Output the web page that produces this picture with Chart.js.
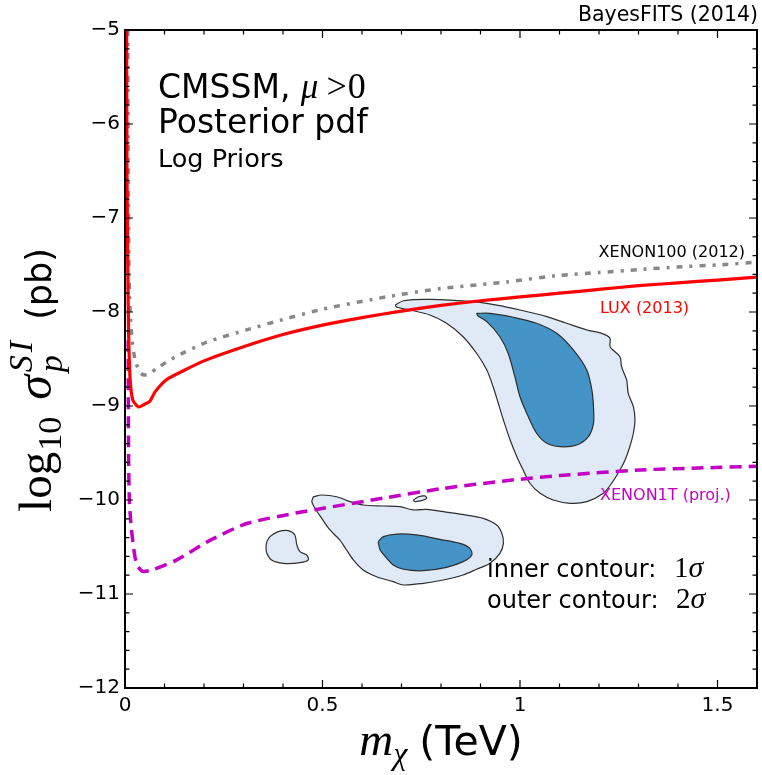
<!DOCTYPE html>
<html>
<head>
<meta charset="utf-8">
<script src="https://cdn.jsdelivr.net/npm/chart.js@4.4.1/dist/chart.umd.min.js"></script>
<style>
  html, body { margin: 0; padding: 0; background: #fff; }
  canvas { display: block; }
</style>
</head>
<body>
<canvas id="chartSI" width="762" height="775"></canvas>
<script>
// ---- datos (m en TeV, log10 sigma en pb) ----
const xMajorTicks = [0, 0.5, 1, 1.5];
const yMajorTicks = [-12, -11, -10, -9, -8, -7, -6, -5];

const luxMass  = [0.004, 0.005, 0.007, 0.009, 0.013, 0.020, 0.034, 0.050, 0.063, 0.076, 0.105, 0.150, 0.200, 0.300, 0.400, 0.500, 0.600, 0.700, 0.800, 0.900, 1.000, 1.100, 1.200, 1.300, 1.400, 1.500, 1.600];
const luxSigma = [-5.00, -6.50, -7.50, -8.20, -8.72, -8.94, -9.01, -8.98, -8.95, -8.85, -8.72, -8.62, -8.52, -8.37, -8.24, -8.14, -8.06, -7.99, -7.93, -7.88, -7.84, -7.80, -7.76, -7.72, -7.69, -7.66, -7.63];

const xenon100Mass  = [0.007, 0.008, 0.010, 0.013, 0.018, 0.025, 0.035, 0.046, 0.060, 0.080, 0.114, 0.150, 0.207, 0.308, 0.400, 0.500, 0.660, 0.800, 0.966, 1.100, 1.200, 1.300, 1.400, 1.500, 1.600];
const xenon100Sigma = [-5.00, -6.50, -7.50, -8.00, -8.30, -8.50, -8.62, -8.67, -8.66, -8.60, -8.51, -8.43, -8.32, -8.19, -8.08, -7.97, -7.84, -7.75, -7.68, -7.61, -7.58, -7.55, -7.52, -7.50, -7.47];

const xenon1tMass  = [0.008, 0.009, 0.011, 0.016, 0.025, 0.033, 0.046, 0.072, 0.130, 0.215, 0.308, 0.443, 0.485, 0.654, 0.800, 0.975, 1.100, 1.304, 1.450, 1.600];
const xenon1tSigma = [-8.30, -9.50, -10.00, -10.30, -10.60, -10.71, -10.76, -10.74, -10.64, -10.43, -10.25, -10.13, -10.10, -9.98, -9.88, -9.79, -9.74, -9.68, -9.66, -9.64];

// contornos 2 sigma (externos) y 1 sigma (internos)
const outerMainX = [0.684, 0.705, 0.772, 0.882, 0.941, 1.000, 1.068, 1.118, 1.169, 1.207, 1.228, 1.228, 1.253, 1.257, 1.270, 1.274, 1.287, 1.291, 1.287, 1.278, 1.266, 1.253, 1.232, 1.211, 1.169, 1.127, 1.084, 1.051, 1.025, 1.008, 0.992, 0.975, 0.958, 0.945, 0.932, 0.916, 0.890, 0.856, 0.814, 0.772, 0.722, 0.688];
const outerMainY = [-7.926, -7.880, -7.865, -7.890, -7.926, -7.979, -8.050, -8.120, -8.191, -8.227, -8.280, -8.369, -8.476, -8.582, -8.723, -8.865, -9.007, -9.149, -9.290, -9.433, -9.574, -9.681, -9.822, -9.929, -10.018, -10.035, -10.000, -9.929, -9.822, -9.681, -9.539, -9.362, -9.149, -8.971, -8.795, -8.617, -8.439, -8.263, -8.120, -8.032, -7.979, -7.950];

const innerMainX = [0.890, 0.924, 0.983, 1.042, 1.093, 1.135, 1.169, 1.182, 1.186, 1.186, 1.173, 1.144, 1.101, 1.068, 1.042, 1.021, 1.000, 0.987, 0.970, 0.949, 0.916, 0.894];
const innerMainY = [-8.014, -8.014, -8.056, -8.120, -8.227, -8.404, -8.617, -8.830, -9.007, -9.184, -9.327, -9.415, -9.433, -9.397, -9.290, -9.114, -8.901, -8.688, -8.439, -8.263, -8.103, -8.043];

const outerLowX = [0.477, 0.498, 0.536, 0.570, 0.603, 0.654, 0.696, 0.730, 0.764, 0.806, 0.865, 0.907, 0.941, 0.954, 0.958, 0.949, 0.924, 0.890, 0.856, 0.806, 0.755, 0.705, 0.679, 0.637, 0.603, 0.578, 0.561, 0.544, 0.519, 0.498, 0.481, 0.473];
const outerLowY = [-9.965, -9.947, -9.965, -10.018, -10.053, -10.064, -10.071, -10.106, -10.099, -10.124, -10.160, -10.195, -10.266, -10.354, -10.461, -10.567, -10.673, -10.737, -10.798, -10.851, -10.886, -10.904, -10.869, -10.816, -10.745, -10.638, -10.532, -10.426, -10.319, -10.195, -10.088, -10.018];

const innerLowX = [0.641, 0.654, 0.688, 0.738, 0.797, 0.848, 0.873, 0.878, 0.856, 0.814, 0.755, 0.705, 0.679, 0.663, 0.646];
const innerLowY = [-10.444, -10.390, -10.362, -10.372, -10.418, -10.461, -10.514, -10.585, -10.656, -10.716, -10.752, -10.737, -10.691, -10.620, -10.532];

const blobLeftX = [0.359, 0.367, 0.388, 0.413, 0.430, 0.435, 0.443, 0.460, 0.464, 0.443, 0.401, 0.371, 0.359, 0.357];
const blobLeftY = [-10.444, -10.390, -10.337, -10.326, -10.372, -10.479, -10.550, -10.585, -10.638, -10.667, -10.674, -10.638, -10.567, -10.497];

const blobTinyX = [0.730, 0.743, 0.759, 0.764, 0.747, 0.734];
const blobTinyY = [-10.000, -9.965, -9.957, -9.982, -10.010, -10.018];

// ---- helpers ----
function toPoints(xs, ys) {
    return xs.map((x, i) => ({ x: x, y: ys[i] }));
}
function closedPoints(xs, ys) {
    const p = toPoints(xs, ys);
    p.push({ x: xs[0], y: ys[0] });
    return p;
}

const OUTER_FILL = '#dfeaf6';
const INNER_FILL = '#4594c7';
const EDGE = '#2e2e2e';

function contourSet(xs, ys, fillColor, order) {
    return {
        data: closedPoints(xs, ys),
        showLine: true,
        fill: 'shape',
        backgroundColor: fillColor,
        borderColor: EDGE,
        borderWidth: 1.2,
        pointRadius: 0,
        tension: 0.3,
        order: order
    };
}

// dibuja trozos de texto con fuentes distintas (para lo "matematico")
function drawRuns(ctx, x, y, runs, align) {
    let total = 0;
    const adv = runs.map(r => {
        ctx.font = r.font;
        const w = ctx.measureText(r.t).width;
        const a = r.noAdvance ? 0 : w + (r.gap || 0);
        total += a;
        return a;
    });
    let cx = align === 'center' ? x - total / 2 : (align === 'right' ? x - total : x);
    ctx.textAlign = 'left';
    ctx.textBaseline = 'alphabetic';
    runs.forEach((r, i) => {
        ctx.font = r.font;
        ctx.fillStyle = r.color || '#000';
        ctx.fillText(r.t, cx, y + (r.dy || 0));
        cx += adv[i];
    });
}

// marco y marcas hacia adentro (estilo matplotlib)
const frameTicks = {
    id: 'frameTicks',
    afterDatasetsDraw(chart) {
        const { ctx, chartArea: a, scales: { x, y } } = chart;
        ctx.save();
        ctx.strokeStyle = '#000';
        ctx.lineWidth = 1.2;
        ctx.beginPath();
        for (let i = 0; i <= 16; i++) {
            const px = x.getPixelForValue(i / 10);
            const len = xMajorTicks.some(v => Math.abs(v - i / 10) < 1e-6) ? 8 : 4.5;
            ctx.moveTo(px, a.bottom); ctx.lineTo(px, a.bottom - len);
            ctx.moveTo(px, a.top); ctx.lineTo(px, a.top + len);
        }
        for (let i = 0; i <= 35; i++) {
            const v = -12 + i * 0.2;
            const py = y.getPixelForValue(v);
            const len = i % 5 === 0 ? 8 : 4.5;
            ctx.moveTo(a.left, py); ctx.lineTo(a.left + len, py);
            ctx.moveTo(a.right, py); ctx.lineTo(a.right - len, py);
        }
        ctx.stroke();
        ctx.lineWidth = 2;
        ctx.strokeRect(a.left, a.top, a.right - a.left, a.bottom - a.top);
        ctx.restore();
    }
};

const SANS = '"DejaVu Sans", sans-serif';
const SERIF = '"Liberation Serif", serif';

const annotations = {
    id: 'annotations',
    afterDraw(chart) {
        const { ctx, chartArea: a } = chart;
        ctx.save();
        // esquina superior
        drawRuns(ctx, 758, 21, [{ t: 'BayesFITS (2014)', font: '20.5px ' + SANS }], 'right');

        // titulo del panel
        drawRuns(ctx, 158, 98, [
            { t: 'CMSSM, ', font: '33px ' + SANS },
            { t: 'μ', font: 'italic 35px ' + SERIF, gap: 8 },
            { t: '>', font: '36px ' + SERIF, gap: 1 },
            { t: '0', font: '36px ' + SERIF }
        ], 'left');
        drawRuns(ctx, 158, 133, [{ t: 'Posterior pdf', font: '33px ' + SANS }], 'left');
        drawRuns(ctx, 158, 167, [{ t: 'Log Priors', font: '25.5px ' + SANS }], 'left');

        // etiquetas de los limites
        drawRuns(ctx, 745, 257, [{ t: 'XENON100 (2012)', font: '16px ' + SANS }], 'right');
        drawRuns(ctx, 600, 313, [{ t: 'LUX (2013)', font: '16px ' + SANS, color: '#ff0000' }], 'left');
        drawRuns(ctx, 600, 500, [{ t: 'XENON1T (proj.)', font: '16px ' + SANS, color: '#c400c4' }], 'left');

        // leyenda de contornos
        drawRuns(ctx, 487, 577, [
            { t: 'inner contour: ', font: '24px ' + SANS, gap: 10 },
            { t: '1', font: '29px ' + SERIF },
            { t: 'σ', font: 'italic 30px ' + SERIF }
        ], 'left');
        drawRuns(ctx, 487, 608, [
            { t: 'outer contour: ', font: '24px ' + SANS, gap: 10 },
            { t: '2', font: '29px ' + SERIF },
            { t: 'σ', font: 'italic 30px ' + SERIF }
        ], 'left');

        // titulo eje x
        drawRuns(ctx, (a.left + a.right) / 2, 755, [
            { t: 'm', font: 'italic 47px ' + SERIF },
            { t: 'χ', font: 'italic 32px ' + SERIF, dy: 9, gap: 12 },
            { t: '(TeV)', font: '41px ' + SANS }
        ], 'center');

        // titulo eje y (rotado)
        ctx.save();
        ctx.translate(51, 380);
        ctx.rotate(-Math.PI / 2);
        drawRuns(ctx, 0, 0, [
            { t: 'log', font: '47px ' + SERIF, gap: 1 },
            { t: '10', font: '34px ' + SERIF, dy: 10, gap: 17 },
            { t: 'σ', font: 'italic 50px ' + SERIF, gap: 3 },
            { t: 'p', font: 'italic 34px ' + SERIF, dy: 11, noAdvance: true },
            { t: 'S', font: 'italic 34px ' + SERIF, dy: -19, gap: 3 },
            { t: 'I', font: 'italic 34px ' + SERIF, dy: -19, gap: 21 },
            { t: '(pb)', font: '35px ' + SANS }
        ], 'center');
        ctx.restore();

        ctx.restore();
    }
};

const ctx1 = document.getElementById('chartSI').getContext('2d');
const chartSI = new Chart(ctx1, {
    type: 'scatter',
    data: {
        datasets: [
            {
                label: 'LUX (2013)',
                data: toPoints(luxMass, luxSigma),
                showLine: true,
                borderColor: '#ff0000',
                borderWidth: 3.2,
                pointRadius: 0,
                tension: 0.2,
                order: 0
            },
            {
                label: 'XENON100 (2012)',
                data: toPoints(xenon100Mass, xenon100Sigma),
                showLine: true,
                borderColor: '#888888',
                borderWidth: 3.5,
                borderDash: [6, 7, 3, 7],
                pointRadius: 0,
                tension: 0.2,
                order: 0
            },
            {
                label: 'XENON1T (proj.)',
                data: toPoints(xenon1tMass, xenon1tSigma),
                showLine: true,
                borderColor: '#c400c4',
                borderWidth: 3.5,
                borderDash: [12, 7],
                pointRadius: 0,
                tension: 0.2,
                order: 0
            },
            contourSet(innerMainX, innerMainY, INNER_FILL, 1),
            contourSet(innerLowX, innerLowY, INNER_FILL, 1),
            contourSet(outerMainX, outerMainY, OUTER_FILL, 2),
            contourSet(outerLowX, outerLowY, OUTER_FILL, 2),
            contourSet(blobLeftX, blobLeftY, OUTER_FILL, 2),
            contourSet(blobTinyX, blobTinyY, OUTER_FILL, 2)
        ]
    },
    options: {
        responsive: false,
        animation: false,
        devicePixelRatio: 1,
        layout: { padding: { top: 30, right: 5, left: 0, bottom: 0 } },
        plugins: {
            legend: { display: false },
            tooltip: { enabled: false }
        },
        scales: {
            x: {
                type: 'linear',
                min: 0,
                max: 1.6,
                afterBuildTicks: s => { s.ticks = xMajorTicks.map(v => ({ value: v })); },
                afterFit: s => { s.height = 87; },
                grid: { display: false, drawTicks: false },
                border: { display: false },
                ticks: {
                    color: '#000',
                    font: { family: SANS, size: 20 },
                    padding: 6,
                    maxRotation: 0,
                    callback: v => String(v)
                }
            },
            y: {
                type: 'linear',
                min: -12,
                max: -5,
                afterBuildTicks: s => { s.ticks = yMajorTicks.map(v => ({ value: v })); },
                afterFit: s => { s.width = 125; },
                grid: { display: false, drawTicks: false },
                border: { display: false },
                ticks: {
                    color: '#000',
                    font: { family: SANS, size: 20 },
                    padding: 5,
                    callback: v => '\u2212' + Math.abs(v)
                }
            }
        }
    },
    plugins: [frameTicks, annotations]
});
</script>
</body>
</html>
